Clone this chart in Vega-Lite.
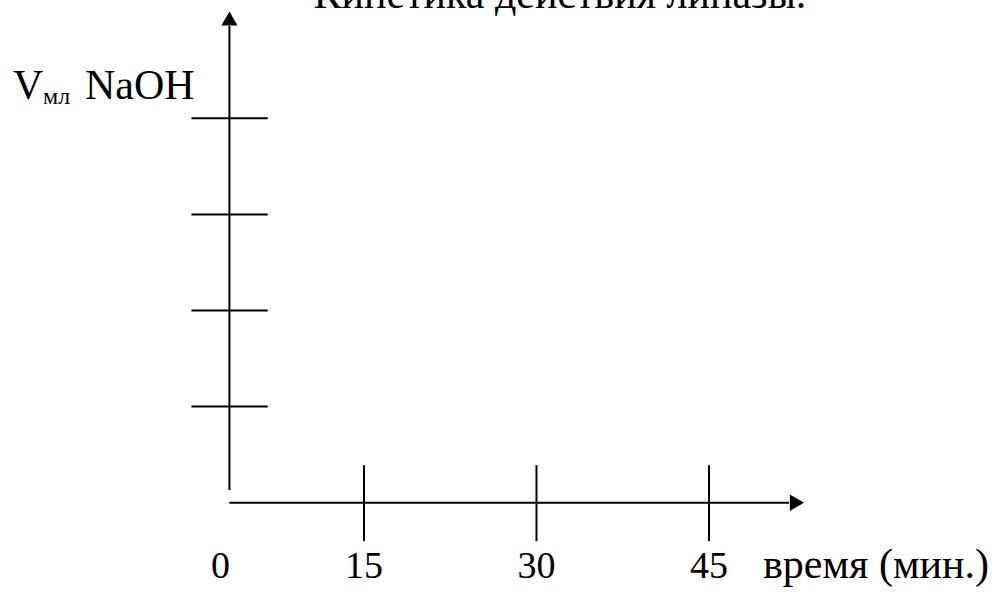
{
  "$schema": "https://vega.github.io/schema/vega-lite/v6.json",
  "width": 995,
  "height": 595,
  "autosize": {"type": "none"},
  "padding": 0,
  "background": "white",
  "config": {"view": {"stroke": null}, "font": "Liberation Serif"},
  "datasets": {
    "segments": [
      {"part": "y-axis", "t": 3.3, "t2": 3.3, "v": 0.132, "v2": 4.96},
      {"part": "x-axis", "t": 3.29, "t2": 51.96, "v": 0, "v2": 0},
      {"part": "y-tick", "t": 0, "t2": 6.63, "v": 1, "v2": 1},
      {"part": "y-tick", "t": 0, "t2": 6.63, "v": 2, "v2": 2},
      {"part": "y-tick", "t": 0, "t2": 6.63, "v": 3, "v2": 3},
      {"part": "y-tick", "t": 0, "t2": 6.63, "v": 4, "v2": 4},
      {"part": "x-tick", "t": 15, "t2": 15, "v": -0.4, "v2": 0.39},
      {"part": "x-tick", "t": 30, "t2": 30, "v": -0.4, "v2": 0.39},
      {"part": "x-tick", "t": 45, "t2": 45, "v": -0.4, "v2": 0.39}
    ],
    "arrows": [
      {"dir": "up", "t": 3.3, "v": 5.038},
      {"dir": "right", "t": 52.65, "v": 0}
    ],
    "texts": [
      {"role": "title", "label": "Кинетика действия липазы.", "t": 32.04, "v": 5.143},
      {"role": "ylab", "label": "V", "t": -15.52, "v": 4.198},
      {"role": "sub", "label": "мл", "t": -12.91, "v": 4.146},
      {"role": "ylab", "label": "NaOH", "t": -9.26, "v": 4.198},
      {"role": "zero", "label": "0", "t": 0, "v": -0.7836},
      {"role": "tick", "label": "15", "t": 15, "v": -0.7836},
      {"role": "tick", "label": "30", "t": 30, "v": -0.7836},
      {"role": "tick", "label": "45", "t": 45, "v": -0.7836},
      {"role": "xlab", "label": "время (мин.)", "t": 49.7, "v": -0.7836}
    ]
  },
  "encoding": {
    "x": {"field": "t", "type": "quantitative", "axis": null, "scale": {"domain": [-16.65, 69.87], "nice": false, "zero": false}},
    "y": {"field": "v", "type": "quantitative", "axis": null, "scale": {"domain": [-0.9605, 5.231], "nice": false, "zero": false}}
  },
  "layer": [
    {
      "data": {"name": "segments"},
      "mark": {"type": "rule", "color": "black", "strokeWidth": 2},
      "encoding": {
        "x2": {"field": "t2"},
        "y2": {"field": "v2"}
      }
    },
    {
      "data": {"name": "arrows"},
      "transform": [{"filter": "datum.dir === 'up'"}],
      "mark": {"type": "point", "shape": "triangle-up", "filled": true, "color": "black", "opacity": 1, "size": 260, "strokeWidth": 0}
    },
    {
      "data": {"name": "arrows"},
      "transform": [{"filter": "datum.dir === 'right'"}],
      "mark": {"type": "point", "shape": "triangle-right", "filled": true, "color": "black", "opacity": 1, "size": 270, "strokeWidth": 0}
    },
    {
      "data": {"name": "texts"},
      "transform": [{"filter": "datum.role === 'title'"}],
      "mark": {"type": "text", "align": "center", "baseline": "alphabetic", "fontSize": 42, "color": "black"},
      "encoding": {"text": {"field": "label"}}
    },
    {
      "data": {"name": "texts"},
      "transform": [{"filter": "datum.role === 'ylab'"}],
      "mark": {"type": "text", "align": "left", "baseline": "alphabetic", "fontSize": 42, "color": "black"},
      "encoding": {"text": {"field": "label"}}
    },
    {
      "data": {"name": "texts"},
      "transform": [{"filter": "datum.role === 'sub'"}],
      "mark": {"type": "text", "align": "left", "baseline": "alphabetic", "fontSize": 24, "color": "black"},
      "encoding": {"text": {"field": "label"}}
    },
    {
      "data": {"name": "texts"},
      "transform": [{"filter": "datum.role === 'tick'"}],
      "mark": {"type": "text", "align": "center", "baseline": "alphabetic", "fontSize": 38, "color": "black"},
      "encoding": {"text": {"field": "label"}}
    },
    {
      "data": {"name": "texts"},
      "transform": [{"filter": "datum.role === 'zero'"}],
      "mark": {"type": "text", "align": "center", "baseline": "alphabetic", "fontSize": 38, "color": "black", "dx": 29},
      "encoding": {"text": {"field": "label"}}
    },
    {
      "data": {"name": "texts"},
      "transform": [{"filter": "datum.role === 'xlab'"}],
      "mark": {"type": "text", "align": "left", "baseline": "alphabetic", "fontSize": 42, "color": "black"},
      "encoding": {"text": {"field": "label"}}
    }
  ]
}
